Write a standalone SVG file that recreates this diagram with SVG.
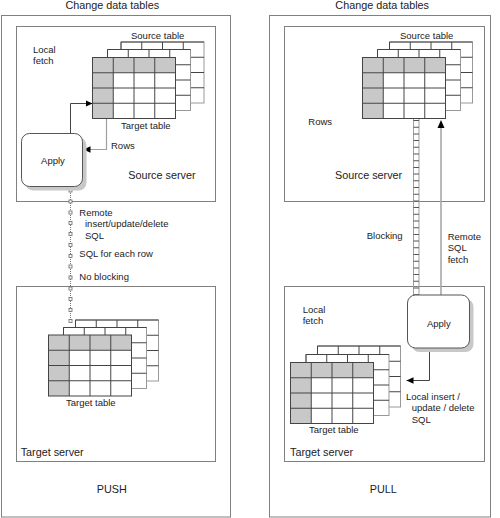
<svg xmlns="http://www.w3.org/2000/svg" width="500" height="518" viewBox="0 0 500 518">
<style>
text{font-family:"Liberation Sans",Arial,sans-serif;fill:#222}
.s{font-size:9.5px}
.l{font-size:10.8px}
.m{text-anchor:middle}
.panel{fill:#fff;stroke:#808080;stroke-width:1}
.box{fill:none;stroke:#808080;stroke-width:1}
.apply{fill:#fff;stroke:#555;stroke-width:1}
.shadow{fill:#c8c8c8}
.dark{fill:none;stroke:#444;stroke-width:1}
.grey{fill:none;stroke:#a0a0a0;stroke-width:1.2}
</style>
<defs>
<marker id="ah" markerUnits="userSpaceOnUse" markerWidth="8" markerHeight="8" refX="7" refY="4" orient="auto">
<path d="M0,0.8 L7,4 L0,7.2 Z" fill="#000"/>
</marker>
<g id="tf">
<rect width="83" height="61" fill="#fff"/>
<rect width="83" height="15.25" fill="#c8c8c8"/>
<rect y="15.25" width="20.75" height="45.75" fill="#c8c8c8"/>
<path d="M20.75 0V61M41.5 0V61M62.25 0V61M0 15.25H83M0 30.5H83M0 45.75H83" stroke="#444" fill="none"/>
<rect width="83" height="61" fill="none" stroke="#444"/>
</g>
<g id="tb">
<rect width="83" height="61" fill="#fff" stroke="#999"/>
<path d="M20.75 0V61M41.5 0V61M62.25 0V61M0 15.25H83M0 30.5H83M0 45.75H83M0 61V0H83" stroke="#444" fill="none"/>
</g>
</defs>

<g id="panel-push">
<rect class="panel" x="1.5" y="15.5" width="229" height="501.5"/>
<text class="l m" x="112.3" y="9">Change data tables</text>
<text class="l m" x="111.7" y="493">PUSH</text>
</g>
<g id="panel-pull">
<rect class="panel" x="269.5" y="15.5" width="221" height="501.5"/>
<text class="l m" x="382.2" y="9">Change data tables</text>
<text class="l m" x="383.3" y="493">PULL</text>
</g>

<g id="source-server-push">
<rect class="box" x="16.5" y="26.5" width="199" height="175"/>
<text class="l" x="128.3" y="178.5">Source server</text>
<text class="s" x="33" y="52.5">Local</text>
<text class="s" x="33" y="64">fetch</text>
</g>
<g id="target-server-push">
<rect class="box" x="16.5" y="286.5" width="199" height="175"/>
<text class="l" x="20.7" y="456">Target server</text>
</g>
<g id="source-server-pull">
<rect class="box" x="284.5" y="26.5" width="200" height="175"/>
<text class="l" x="335" y="178.5">Source server</text>
<text class="s" x="308.3" y="125">Rows</text>
</g>
<g id="target-server-pull">
<rect class="box" x="284.5" y="286.5" width="200" height="175"/>
<text class="l" x="290" y="456">Target server</text>
<text class="s" x="302.7" y="313">Local</text>
<text class="s" x="302.7" y="324">fetch</text>
</g>

<g id="connectors">
<path class="dark" d="M70.5 133.5V103.5H92.5" marker-end="url(#ah)"/>
<path class="grey" d="M106.5 118.5V149.5H83.5" marker-end="url(#ah)"/>
<line x1="70.5" y1="187" x2="70.5" y2="323" stroke="#777" stroke-dasharray="1 1"/>
<g fill="#fff" stroke="#666" stroke-width="0.8">
<rect x="69" y="189" width="3" height="3"/>
<rect x="69" y="200" width="3" height="3"/>
<rect x="69" y="211" width="3" height="3"/>
<rect x="69" y="221.5" width="3" height="3"/>
<rect x="69" y="232.5" width="3" height="3"/>
<rect x="69" y="243.5" width="3" height="3"/>
<rect x="69" y="254.5" width="3" height="3"/>
<rect x="69" y="265" width="3" height="3"/>
<rect x="69" y="276" width="3" height="3"/>
<rect x="69" y="287" width="3" height="3"/>
<rect x="69" y="297.5" width="3" height="3"/>
<rect x="69" y="308.5" width="3" height="3"/>
<rect x="69" y="319.5" width="3" height="3"/>
</g>
<line x1="413.5" y1="118.5" x2="413.5" y2="295" stroke="#a0a0a0"/>
<line x1="419" y1="118.5" x2="419" y2="295" stroke="#a0a0a0"/>
<line x1="416.25" y1="120" x2="416.25" y2="295" stroke="#555" stroke-width="5.5" stroke-dasharray="1 5.7"/>
<path d="M441 295V127" stroke="#a8a8a8" stroke-width="1.6" fill="none"/>
<path d="M441 120L437.5 128H444.5Z" fill="#000"/>
<path class="dark" d="M429.5 348.5V380.5H406.5" marker-end="url(#ah)"/>
<text class="s" x="79.3" y="216">Remote</text>
<text class="s" x="85" y="227">insert/update/delete</text>
<text class="s" x="85" y="239">SQL</text>
<text class="s" x="79.3" y="256.5">SQL for each row</text>
<text class="s" x="79.3" y="280">No blocking</text>
<text class="s" x="111" y="149">Rows</text>
<text class="s" x="366.7" y="238.5">Blocking</text>
<text class="s" x="447.7" y="240">Remote</text>
<text class="s" x="447.7" y="251">SQL</text>
<text class="s" x="447.7" y="263">fetch</text>
<text class="s" x="406" y="400">Local insert /</text>
<text class="s" x="411.7" y="411">update / delete</text>
<text class="s" x="411.7" y="423">SQL</text>
</g>

<g id="source-table-push">
<use href="#tb" x="121" y="42"/>
<use href="#tb" x="107.5" y="49.5"/>
<use href="#tf" x="92.5" y="57.5"/>
<text class="s" x="131" y="39">Source table</text>
<text class="s" x="121" y="128.5">Target table</text>
</g>
<g id="target-table-push">
<use href="#tb" x="75.5" y="320"/>
<use href="#tb" x="63.5" y="327.5"/>
<use href="#tf" x="48.5" y="335"/>
<text class="s" x="66" y="406">Target table</text>
</g>
<g id="source-table-pull">
<use href="#tb" x="389.5" y="42"/>
<use href="#tb" x="377.5" y="49.5"/>
<use href="#tf" x="362.5" y="57.5"/>
<text class="s" x="400" y="39">Source table</text>
</g>
<g id="target-table-pull">
<use href="#tb" x="317.5" y="346"/>
<use href="#tb" x="306" y="354.5"/>
<use href="#tf" x="290.5" y="362.5"/>
<text class="s" x="309" y="433">Target table</text>
</g>

<g id="apply-push">
<rect class="shadow" x="25.5" y="137.5" width="61" height="53" rx="8"/>
<rect class="apply" x="21.5" y="133.5" width="61" height="53" rx="8"/>
<text class="s m" x="53" y="164">Apply</text>
</g>
<g id="apply-pull">
<rect class="shadow" x="411.5" y="299" width="62" height="53" rx="8"/>
<rect class="apply" x="407.5" y="295" width="62" height="53" rx="8"/>
<text class="s m" x="438.8" y="326.5">Apply</text>
</g>
</svg>
